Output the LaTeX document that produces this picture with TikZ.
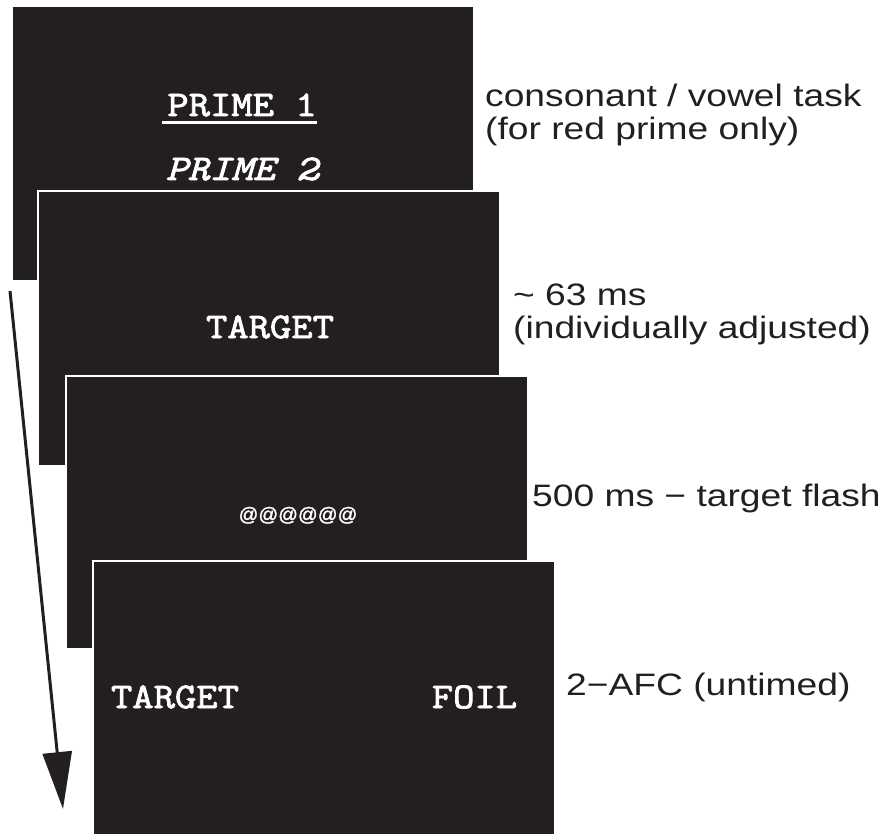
\documentclass[tikz,border=0pt]{standalone}
\usepackage{fontspec}
\usetikzlibrary{arrows.meta}
\newfontfamily\lblfont[FakeStretch=1.2]{Liberation Sans}
\newfontfamily\scrfont[FakeStretch=1.15,FakeBold=2.4]{Latin Modern Mono}
\newfontfamily\atfont[FakeBold=1.5]{Liberation Sans}
\definecolor{ink}{HTML}{231F20}
\tikzset{
  screen/.style={fill=ink, draw=white, line width=2.5pt},
  scrtext/.style={text=white, inner sep=0pt, anchor=base, font=\scrfont\fontsize{36}{36}\selectfont},
  lbl/.style={text=ink, inner sep=0pt, anchor=base west, align=left, font=\lblfont\fontsize{31}{33}\selectfont},
  flow/.style={draw=ink, line width=3pt, -{Triangle[length=57pt,width=29pt]}}
}
\begin{document}
\begin{tikzpicture}[x=1pt,y=-1pt]
\useasboundingbox (0,0) rectangle (886,834);
% screens
\path[fill=ink] (12.5,7) rectangle (473,280);
\path[screen] (38,191) rectangle (500,466);
\path[screen] (66,376) rectangle (528,649);
\path[screen] (93,561) rectangle (555,836);
% texts in screens
\node[scrtext] (p1) at (242,116) {PRIME 1};
\draw[white, line width=2.2pt] ([xshift=-5pt,yshift=-6.5pt]p1.base west) -- ([yshift=-6.5pt]p1.base east);
\node[scrtext, font=\scrfont\itshape\fontsize{36}{36}\selectfont] (p2) at (242,180) {PRIME 2};
\node[scrtext] (t1) at (270,338) {TARGET};
\node[scrtext, font=\atfont\fontsize{19.5}{19.5}\selectfont] (mask) at (298,521) {@@@@@@};
\node[scrtext] (t2) at (175,708) {TARGET};
\node[scrtext] (foil) at (474.5,708) {FOIL};
% labels
\node[lbl] (l1) at (485,140) {consonant / vowel task\\(for red prime only)};
\node[lbl] (l2) at (513,338) {\textasciitilde\ 63 ms\\(individually adjusted)};
\node[lbl] (l3) at (532,506) {500 ms − target flash};
\node[lbl] (l4) at (566,695) {2−AFC (untimed)};
% time arrow
\coordinate (aS) at (10,291);
\coordinate (aE) at (63,809);
\draw[flow] (aS) -- (aE);
\end{tikzpicture}
\end{document}
